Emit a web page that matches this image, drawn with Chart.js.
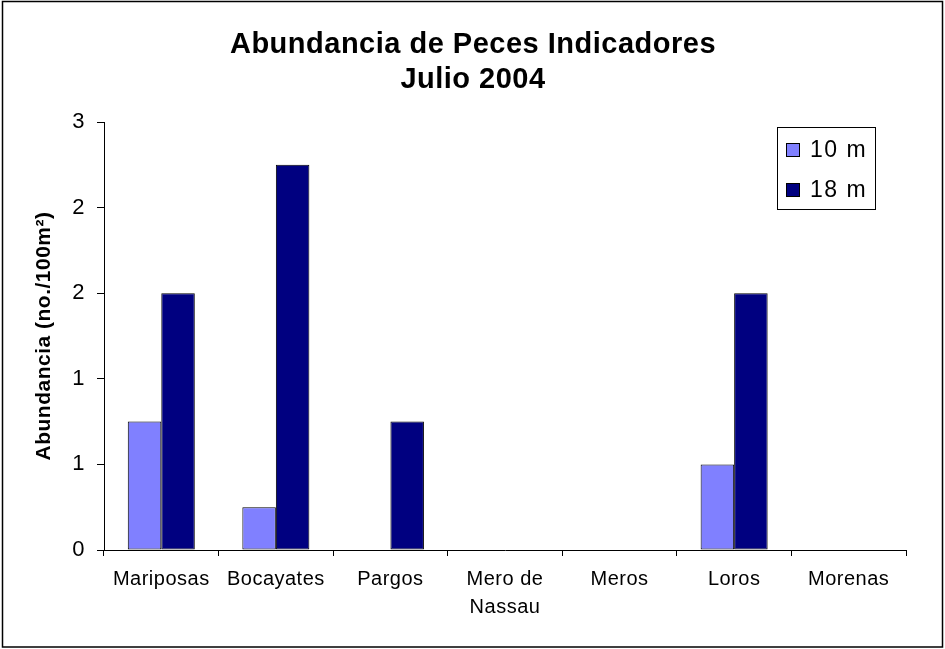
<!DOCTYPE html>
<html>
<head>
<meta charset="utf-8">
<script src="https://cdn.jsdelivr.net/npm/chart.js@4.4.1/dist/chart.umd.min.js"></script>
<style>
  html, body { margin: 0; padding: 0; background: #fff; }
  #wrap { width: 945px; height: 649px; position: relative; }
</style>
</head>
<body>
<div id="wrap"><canvas id="chart" width="945" height="649"></canvas></div>
<script>
const categories = ['Mariposas', 'Bocayates', 'Pargos', ['Mero de', 'Nassau'], 'Meros', 'Loros', 'Morenas'];
const depth10 = [0.9, 0.3, 0, 0, 0, 0.6, 0];
const depth18 = [1.8, 2.7, 0.9, 0, 0, 1.8, 0];
const yTickLabels = ['0', '1', '1', '2', '2', '3'];
const titleLines = ['Abundancia de Peces Indicadores', 'Julio 2004'];
const yTitle = 'Abundancia (no./100m²)';

const FONT = "'Liberation Sans', Arial, sans-serif";

const frame = {
  id: 'frame',
  afterDraw(chart) {
    const ctx = chart.ctx;
    ctx.save();
    ctx.strokeStyle = '#000';
    ctx.lineWidth = 1.5;
    ctx.strokeRect(2.5, 1.5, 940, 645.5);
    ctx.restore();
  }
};

// legend sits inside the plot, top right, in a boxed frame
const boxLegend = {
  id: 'boxLegend',
  afterDraw(chart) {
    const ctx = chart.ctx, area = chart.chartArea;
    const w = 98, h = 82;
    const x = area.right - 31 - w, y = area.top + 5;
    ctx.save();
    ctx.fillStyle = '#fff';
    ctx.fillRect(x, y, w, h);
    ctx.strokeStyle = '#000';
    ctx.lineWidth = 1;
    ctx.strokeRect(x + 0.5, y + 0.5, w, h);
    ctx.font = '23px ' + FONT;
    ctx.letterSpacing = '1.5px';
    ctx.textBaseline = 'middle';
    chart.data.datasets.forEach((ds, i) => {
      const cy = y + 23 + i * 40;
      ctx.fillStyle = ds.backgroundColor;
      ctx.fillRect(x + 9, cy - 7, 14, 14);
      ctx.strokeStyle = '#000';
      ctx.strokeRect(x + 9.5, cy - 6.5, 13, 13);
      ctx.fillStyle = '#000';
      ctx.fillText(ds.label, x + 33, cy + 1);
    });
    ctx.restore();
  }
};

const titleSpacing = {
  id: 'titleSpacing',
  beforeDraw(chart) { chart.ctx.letterSpacing = '0.5px'; },
  afterDraw(chart) { chart.ctx.letterSpacing = '0px'; }
};

new Chart(document.getElementById('chart'), {
  type: 'bar',
  data: {
    labels: categories,
    datasets: [
      { label: '10 m', data: depth10, backgroundColor: '#8080FF', borderColor: '#000', borderWidth: 1, borderSkipped: false },
      { label: '18 m', data: depth18, backgroundColor: '#000080', borderColor: '#000', borderWidth: 1, borderSkipped: false },
    ],
  },
  options: {
    responsive: false,
    animation: false,
    categoryPercentage: 0.585,
    barPercentage: 1,
    layout: { padding: { left: 40, right: 39, top: 0, bottom: 0 } },
    plugins: {
      legend: { display: false },
      tooltip: { enabled: false },
      title: {
        display: true,
        text: titleLines,
        color: '#000',
        font: { family: FONT, size: 29, weight: 'bold', lineHeight: 1.207 },
        padding: { top: 27.5, bottom: 24.5 },
      },
    },
    scales: {
      x: {
        grid: { display: true, drawOnChartArea: false, tickLength: 6, color: '#000' },
        border: { display: true, color: '#000', width: 1 },
        ticks: { color: '#000', font: { family: FONT, size: 20, lineHeight: 1.4 }, padding: 9, maxRotation: 0, autoSkip: false },
        afterFit(scale) { scale.height = 99; },
      },
      y: {
        min: 0, max: 3,
        grid: { display: true, drawOnChartArea: false, tickLength: 7, color: '#000' },
        border: { display: true, color: '#000', width: 1 },
        ticks: { stepSize: 0.6, color: '#000', padding: 12, font: { family: FONT, size: 22 }, callback: (v, i) => yTickLabels[i] },
        title: { display: true, text: yTitle, color: '#000', font: { family: FONT, size: 21, weight: 'bold' }, padding: { top: -8, bottom: 0 } },
        afterFit(scale) { scale.width = 64; },
      },
    },
  },
  plugins: [titleSpacing, frame, boxLegend],
});
</script>
</body>
</html>
